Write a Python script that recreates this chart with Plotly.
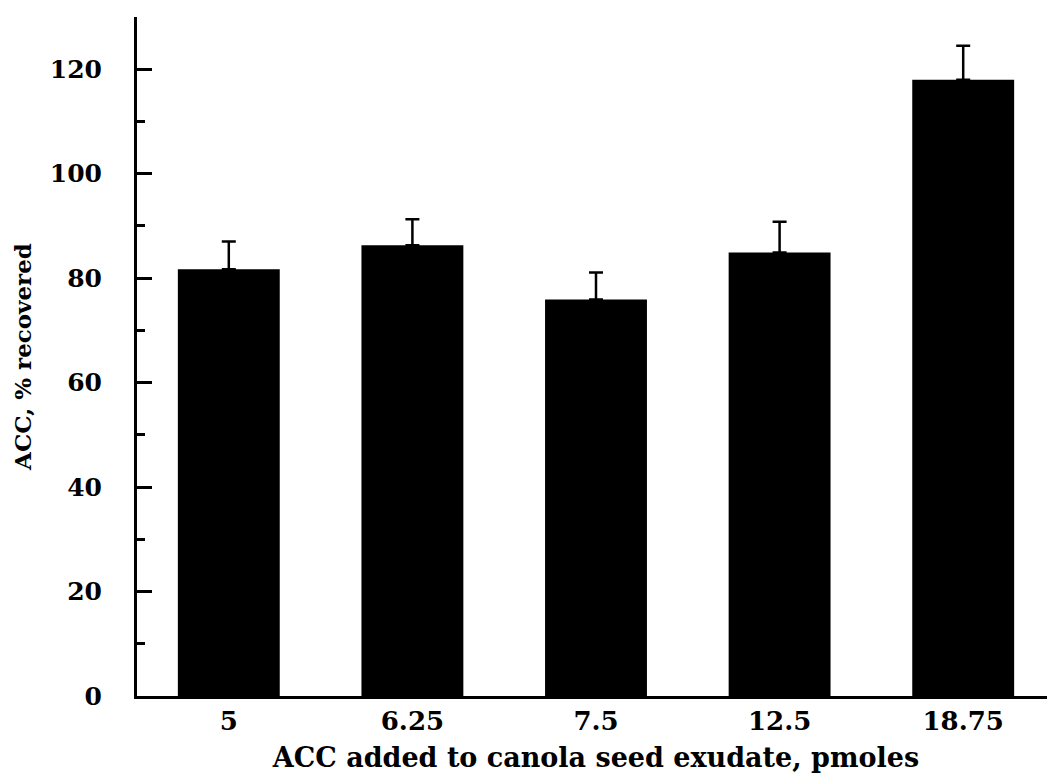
import plotly.graph_objects as go

categories = ["5", "6.25", "7.5", "12.5", "18.75"]
recovered = [81.7, 86.3, 75.9, 84.9, 118.0]
errors = [5.3, 5.0, 5.2, 5.9, 6.5]
y_ticks = [0, 20, 40, 60, 80, 100, 120]

font_family = "DejaVu Serif"

fig = go.Figure(
    go.Bar(
        x=categories,
        y=recovered,
        width=0.555,
        marker=dict(color="black", line=dict(width=0)),
        error_y=dict(
            type="data",
            symmetric=False,
            array=errors,
            arrayminus=[0] * len(errors),
            color="black",
            thickness=2.5,
            width=7,
        ),
    )
)

fig.update_layout(
    width=1047,
    height=773,
    margin=dict(l=129, r=0, t=9, b=85),
    paper_bgcolor="white",
    plot_bgcolor="white",
    showlegend=False,
    font=dict(family=font_family, color="black", size=24, weight="bold"),
)

fig.update_xaxes(
    type="category",
    range=[-0.5, 4.5],
    showline=True,
    linecolor="black",
    linewidth=3,
    ticks="",
    showgrid=False,
    zeroline=False,
    tickfont=dict(family=font_family, size=26, weight="bold"),
    title=dict(
        text="ACC added to canola seed exudate, pmoles",
        font=dict(family=font_family, size=27, weight="bold"),
        standoff=13,
    ),
)

fig.update_yaxes(
    range=[0, 130],
    showline=True,
    linecolor="black",
    linewidth=3,
    ticks="inside",
    ticklen=15,
    tickwidth=2.5,
    tickcolor="black",
    tickvals=y_ticks,
    ticktext=[str(v) for v in y_ticks],
    ticklabelstandoff=27,
    minor=dict(ticks="inside", ticklen=8, tickwidth=2.5, tickcolor="black", dtick=10, tick0=0),
    showgrid=False,
    zeroline=False,
    tickfont=dict(family=font_family, size=25, weight="bold"),
    title=dict(
        text="ACC, % recovered",
        font=dict(family=font_family, size=23, weight="bold"),
        standoff=12,
    ),
)

fig.write_html("out.html")
